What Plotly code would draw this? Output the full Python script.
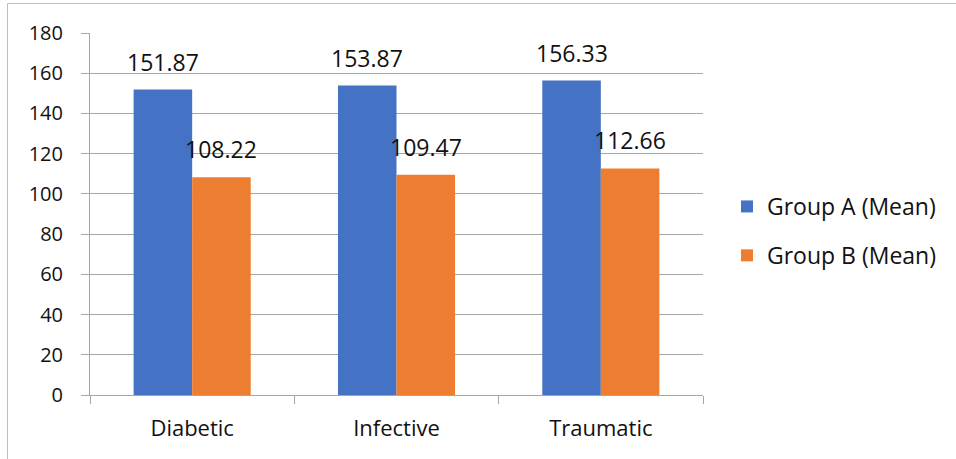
import plotly.graph_objects as go

# Chart data
categories = ["Diabetic", "Infective", "Traumatic"]
group_a = [151.87, 153.87, 156.33]
group_b = [108.22, 109.47, 112.66]
series_names = ["Group A (Mean)", "Group B (Mean)"]
y_ticks = [0, 20, 40, 60, 80, 100, 120, 140, 160, 180]

BLUE = "#4472C4"
ORANGE = "#ED7D31"
GRID = "#a6a6a6"
FONT = "Open Sans"
TEXT = "#111111"

fig = go.Figure()
fig.add_trace(go.Bar(x=categories, y=group_a, name=series_names[0],
                     marker=dict(color=BLUE, line=dict(width=0)),
                     legendgroup="a"))
fig.add_trace(go.Bar(x=categories, y=group_b, name=series_names[1],
                     marker=dict(color=ORANGE, line=dict(width=0)),
                     legendgroup="b"))

# Value labels above each bar, offset to its slot within the group
plot_w = 956 - 90 - 253
cat_w = plot_w / len(categories)
bargap = 0.427
half_bar = cat_w * (1 - bargap) / 4
for vals, shift in ((group_a, -half_bar), (group_b, half_bar)):
    for c, v in zip(categories, vals):
        fig.add_annotation(x=c, y=v, text=f"{v:.2f}", showarrow=False,
                           xshift=shift, yshift=10, yanchor="bottom",
                           font=dict(family=FONT, size=23, color=TEXT))

# Outer chart frame (top and left edges)
px = lambda v: (v - 90) / plot_w
py = lambda v: (395 - v) / 362
fig.add_shape(type="line", xref="paper", yref="paper",
              x0=px(7.5), x1=px(960), y0=py(3.5), y1=py(3.5),
              line=dict(color="#bfbfbf", width=1))
fig.add_shape(type="line", xref="paper", yref="paper",
              x0=px(7.5), x1=px(7.5), y0=py(3.5), y1=py(470),
              line=dict(color="#bfbfbf", width=1))

fig.update_layout(
    width=956, height=459,
    margin=dict(l=90, r=253, t=33, b=64),
    paper_bgcolor="white", plot_bgcolor="white",
    barmode="group", bargap=bargap, bargroupgap=0,
    font=dict(family=FONT, color=TEXT),
    showlegend=True,
    legend=dict(x=px(727), xanchor="left", y=py(231), yanchor="middle",
                font=dict(family=FONT, size=23, color=TEXT),
                tracegroupgap=16, bgcolor="rgba(0,0,0,0)"),
    xaxis=dict(showgrid=False, showline=True, linecolor=GRID, linewidth=1,
               ticks="outside", tickson="boundaries", ticklen=8,
               tickcolor=GRID, tickfont=dict(family=FONT, size=22, color=TEXT),
               ticklabelstandoff=14),
    yaxis=dict(range=[0, 180], tickvals=y_ticks, showgrid=True, gridcolor=GRID,
               gridwidth=1, showline=True, linecolor=GRID, linewidth=1,
               ticks="outside", ticklen=8, tickcolor=GRID,
               tickfont=dict(family=FONT, size=20, color=TEXT),
               ticklabelstandoff=14, zeroline=False),
)

fig.write_html("out.html")
